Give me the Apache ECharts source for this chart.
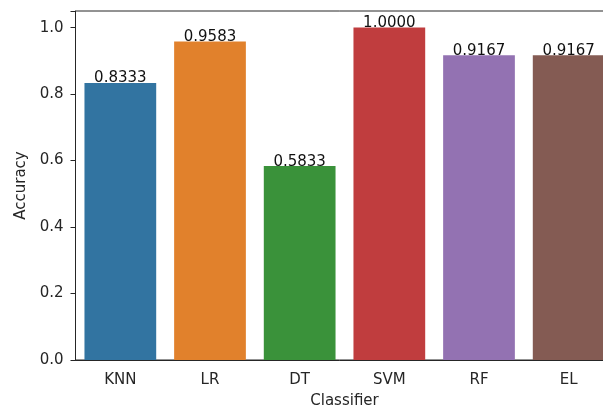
<!DOCTYPE html>
<html><head><meta charset="utf-8">
<script src="https://cdn.jsdelivr.net/npm/echarts@6/dist/echarts.min.js"></script>
<style>html,body{margin:0;padding:0;background:#fff}#c{width:603px;height:412px}</style>
</head><body><div id="c"></div>
<script>
const categories = ['KNN', 'LR', 'DT', 'SVM', 'RF', 'EL'];
const accuracy = [0.8333, 0.9583, 0.5833, 1.0000, 0.9167, 0.9167];
const barColors = ['#3274a1', '#e1812c', '#3a923a', '#c03d3e', '#9372b2', '#845b53'];
const yTicks = [0, 0.2, 0.4, 0.6, 0.8, 1.0];

const chart = echarts.init(document.getElementById('c'), null, {renderer: 'canvas'});
const font = 'DejaVu Sans';
chart.setOption({
  animation: false,
  grid: {left: 75.5, top: 11, right: -10.5, bottom: 52, outerBoundsMode: 'none', containLabel: false,
    show: true, borderColor: '#262626', borderWidth: 1},
  xAxis: {
    type: 'category', data: categories,
    name: 'Classifier', nameLocation: 'middle', nameGap: 34,
    nameTextStyle: {fontFamily: font, fontSize: 15, color: '#262626'},
    axisLine: {lineStyle: {color: '#262626', width: 1}},
    axisTick: {alignWithLabel: true, length: 5, lineStyle: {color: '#262626'}},
    axisLabel: {fontFamily: font, fontSize: 15, color: '#262626', margin: 13}
  },
  yAxis: {
    type: 'value', min: 0, max: 1.05, interval: 0.2,
    name: 'Accuracy', nameLocation: 'middle', nameGap: 45,
    nameTextStyle: {fontFamily: font, fontSize: 15, color: '#262626'},
    axisLine: {show: true, lineStyle: {color: '#262626', width: 1}},
    axisTick: {show: true, length: 5, lineStyle: {color: '#262626'}},
    splitLine: {show: false},
    axisLabel: {fontFamily: font, fontSize: 15, color: '#262626', margin: 12,
      formatter: v => yTicks.some(t => Math.abs(t - v) < 1e-9) ? v.toFixed(1) : ''}
  },
  series: [{
    type: 'bar', barCategoryGap: '20%',
    data: accuracy.map((v, i) => ({value: v, itemStyle: {color: barColors[i]}})),
    label: {show: true, position: 'top', distance: -3, fontFamily: font, fontSize: 15, color: '#111',
      formatter: p => p.value.toFixed(4)}
  }]
});
</script></body></html>
